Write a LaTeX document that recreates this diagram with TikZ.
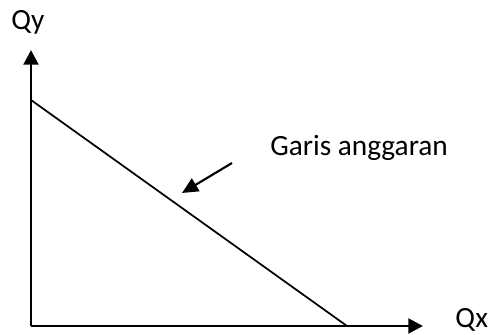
\documentclass[tikz,border=0pt]{standalone}
\usepackage{fontspec}
\setmainfont{Carlito}
\usetikzlibrary{arrows.meta,positioning,calc}
\tikzset{axis/.style={-{Triangle[length=11pt,width=11pt]},line width=2.2pt,draw=black}, budget/.style={line width=1.3pt,draw=black}, pointer/.style={-{Triangle[length=12pt,width=11pt]},line width=1.6pt,draw=black}, lbl/.style={font=\fontsize{22}{26}\selectfont,inner sep=0pt,text=black}}
\begin{document}
\begin{tikzpicture}[x=0.75pt,y=0.75pt]
\useasboundingbox (0,0) rectangle (492,335);
\coordinate (o) at (31,9);
\coordinate (ytop) at (31,285);
\coordinate (xend) at (423,9);
\coordinate (qa) at (31,235);
\coordinate (qb) at (347,9);
\coordinate (tail) at (232,172);
\coordinate (head) at (182,142);
\node[lbl,anchor=base] (qy) at (28,305) {Qy};
\node[lbl,anchor=base west] (qx) at (455,7) {Qx};
\node[lbl,anchor=base west] (garis) at (270,179) {Garis anggaran};
\draw[axis] (o)--(ytop);
\draw[axis] (o)--(xend);
\draw[budget] (qa)--(qb);
\draw[pointer] (tail)--(head);
\end{tikzpicture}
\end{document}
